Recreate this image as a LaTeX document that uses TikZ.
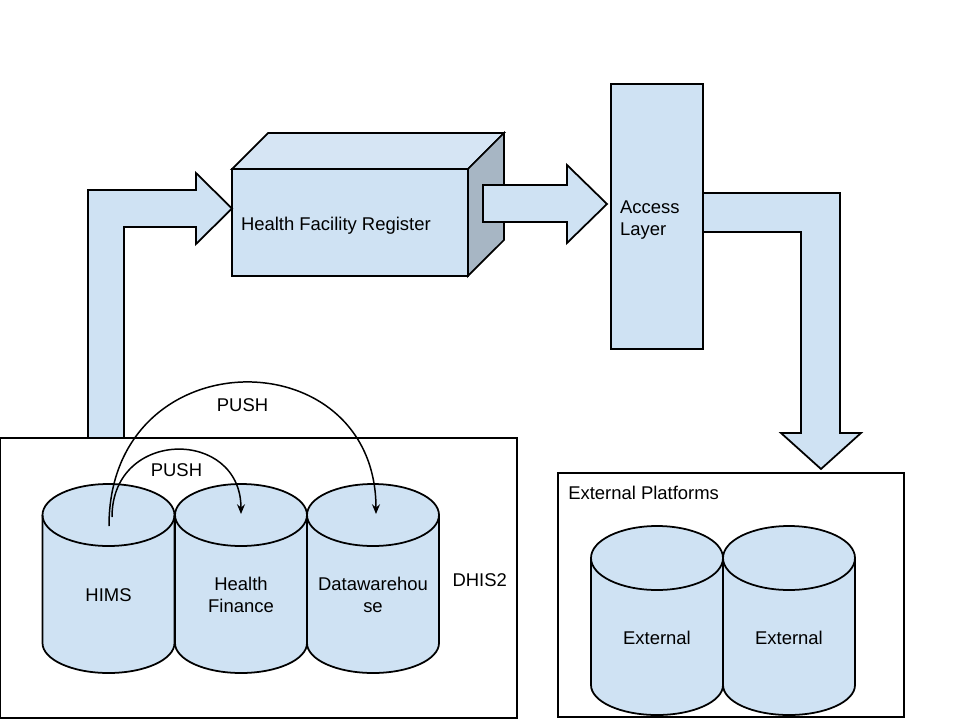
\documentclass[tikz,border=0pt]{standalone}
\usepackage{fontspec}
\setmainfont{Liberation Sans}
\usetikzlibrary{arrows.meta,positioning,calc}

\definecolor{boxblue}{HTML}{CFE2F3}
\definecolor{topblue}{HTML}{D6E5F4}
\definecolor{sideblue}{HTML}{A7B6C4}

\begin{document}
\begin{tikzpicture}[
          x=0.02cm, y=-0.02cm,
          font=\fontsize{10.5}{12.5}\selectfont,
          frame/.style  = {draw, line width=1pt, inner sep=0pt, outer sep=0pt},
          box/.style    = {frame, fill=boxblue},
          barrow/.style = {draw, line width=1pt, fill=boxblue, line join=miter},
          cyl/.style    = {draw, line width=1pt, fill=boxblue},
          push/.style   = {line width=0.85pt, -{Stealth[length=5.5pt,width=4.5pt]}}
        ]

        \useasboundingbox (0,0) rectangle (960,720);

        % --- containers
        \node[frame, minimum width=10.34cm, minimum height=5.6cm,
          label={[anchor=east, xshift=-2.2pt, yshift=-1pt]east:DHIS2}]          (dhis) at (258.5,578) {};
        \node[frame, minimum width=6.92cm, minimum height=4.88cm,
          label={[anchor=north west, xshift=2.3pt, yshift=-4pt]north west:External Platforms}] (ext) at (731,595) {};

        % --- blocks
        \node[box, minimum width=4.72cm, minimum height=2.14cm,
          label={[anchor=west, xshift=1.6pt, yshift=-1.7pt]west:Health Facility Register}] (hfr) at (350,222.5) {};
        \node[box, minimum width=1.84cm, minimum height=5.3cm,
          label={[anchor=west, align=left, xshift=1.6pt, yshift=-2.3pt]west:{Access\\Layer}}] (access) at (657,216.5) {};

        % cube faces
        \draw[line width=1pt, fill=topblue, line join=miter]
          (hfr.north west) -- ++(36,-36) -- ($(hfr.north east)+(36,-36)$) -- (hfr.north east) -- cycle;
        \draw[line width=1pt, fill=sideblue, line join=miter]
          (hfr.north east) -- ++(36,-36) -- ++(0,107) -- (hfr.south east) -- cycle;

        % --- block arrows
        \draw[barrow] (88,438) -- (88,190) -- (196,190) -- (196,173) -- (232,208.5)
          -- (196,244) -- (196,227) -- (124,227) -- (124,438) -- cycle;
        \draw[barrow] (483,185) -- (567,185) -- (567,165) -- (607,204)
          -- (567,243) -- (567,222) -- (483,222) -- cycle;
        \draw[barrow] (703,193) -- (840,193) -- (840,433) -- (861,433) -- (821,469)
          -- (781,433) -- (801,433) -- (801,232) -- (703,232) -- cycle;

        % --- databases
        \foreach \cx/\nm/\txt in {108.5/hims/HIMS, 241/fin/{Health\\Finance}, 373/dw/{Datawarehou\\se}} {
          \path[cyl] (\cx-66,515) -- (\cx-66,643) arc[start angle=180, end angle=0, x radius=66, y radius=30]
            -- (\cx+66,515) arc[start angle=0, end angle=-180, x radius=66, y radius=31] -- cycle;
          \draw[line width=1pt] (\cx-66,515) arc[start angle=180, end angle=0, x radius=66, y radius=31];
          \node[align=center] (\nm) at (\cx,595) {\txt};
        }
        \foreach \cx/\nm in {657/extA, 789/extB} {
          \path[cyl] (\cx-66,558) -- (\cx-66,685) arc[start angle=180, end angle=0, x radius=66, y radius=30]
            -- (\cx+66,558) arc[start angle=0, end angle=-180, x radius=66, y radius=32] -- cycle;
          \draw[line width=1pt] (\cx-66,558) arc[start angle=180, end angle=0, x radius=66, y radius=32];
          \node (\nm) at (\cx,638) {External};
        }

        % --- push arcs
        \coordinate (himsA) at (109,526);
        \coordinate (himsB) at (112,517);
        \coordinate (finT)  at (241,514);
        \coordinate (dwT)   at (376,514);
        \draw[push] (himsB) .. controls (112,428) and (241,428) .. (finT)
          node[midway, below=4pt] (push1) {PUSH};
        \draw[push] (himsA) .. controls (109,337) and (376,337) .. (dwT)
          node[midway, below=5.5pt] (push2) {PUSH};
    \end{tikzpicture}
\end{document}
